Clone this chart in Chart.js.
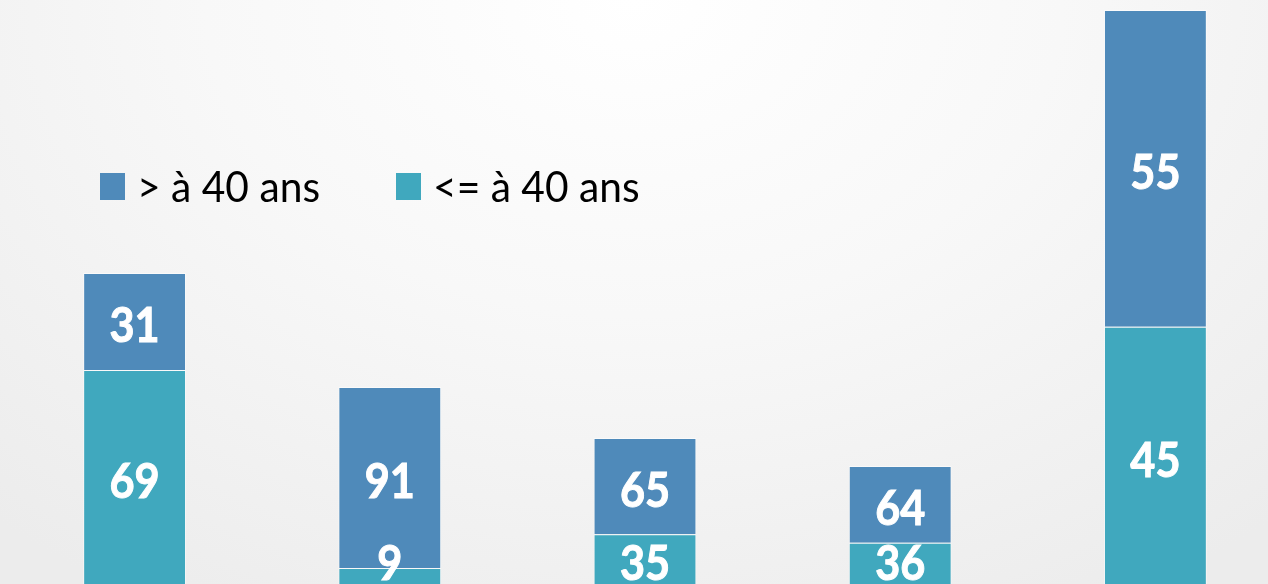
<!DOCTYPE html>
<html>
<head>
<meta charset="utf-8">
<script src="https://cdn.jsdelivr.net/npm/chart.js@4"></script>
<style>
  html, body {
    margin: 0;
    width: 1268px;
    height: 584px;
    overflow: hidden;
    background: radial-gradient(ellipse 75% 120% at 50% 0%, #ffffff 0%, #f8f8f8 45%, #ececec 100%);
  }
  #wrap {
    position: absolute;
    left: 0;
    top: 0;
    width: 1290px;
    height: 590px;
  }
</style>
</head>
<body>
<div id="wrap"><canvas id="ageChart"></canvas></div>
<script>
// Five groups, each split by age; labels show the share (%) inside each bar
const groups = ["G1", "G2", "G3", "G4", "G5"];
const totals = [313, 199, 148, 120, 576];
const pctOver40 = [31, 91, 65, 64, 55];
const pctUpTo40 = [69, 9, 35, 36, 45];

const seriesNames = ["> à 40 ans", "<= à 40 ans"];
const colorOver = "#4f8aba";
const colorUpTo = "#40a8be";

const valuesOver = totals.map((t, i) => t * pctOver40[i] / 100);
const valuesUpTo = totals.map((t, i) => t * pctUpTo40[i] / 100);

// White percentage labels centred in each segment, kept inside the plot bottom
const segmentLabels = {
  id: "segmentLabels",
  afterDatasetsDraw(chart) {
    const ctx = chart.ctx;
    const bottom = chart.chartArea.bottom;
    ctx.save();
    ctx.fillStyle = "#ffffff";
    ctx.strokeStyle = "#ffffff";
    ctx.lineWidth = 1;
    ctx.font = "bold 48px Lato";
    ctx.textAlign = "center";
    ctx.textBaseline = "middle";
    chart.data.datasets.forEach((ds, di) => {
      const meta = chart.getDatasetMeta(di);
      meta.data.forEach((bar, i) => {
        const mid = (bar.y + bar.base) / 2 + 5;
        const y = Math.min(mid, bottom - 21);
        ctx.save();
        ctx.translate(bar.x, y);
        ctx.scale(0.9, 1);
        ctx.fillText(String(ds.pct[i]), 0, 0);
        ctx.strokeText(String(ds.pct[i]), 0, 0);
        ctx.restore();
      });
    });
    ctx.restore();
  }
};

// Legend drawn over the plot area, upper left
const floatingLegend = {
  id: "floatingLegend",
  afterDraw(chart) {
    const ctx = chart.ctx;
    const items = [
      { text: seriesNames[0], color: colorOver, x: 100 },
      { text: seriesNames[1], color: colorUpTo, x: 396 }
    ];
    ctx.save();
    ctx.font = "42px Lato";
    ctx.textBaseline = "middle";
    ctx.textAlign = "left";
    items.forEach(it => {
      ctx.fillStyle = it.color;
      ctx.fillRect(it.x, 173, 25, 27);
      ctx.fillStyle = "#000000";
      ctx.save();
      ctx.translate(it.x + 37, 188);
      ctx.scale(0.97, 1);
      ctx.fillText(it.text, 0, 0);
      ctx.restore();
    });
    ctx.restore();
  }
};

const ctx = document.getElementById("ageChart").getContext("2d");
new Chart(ctx, {
  type: "bar",
  data: {
    labels: groups,
    datasets: [
      {
        label: seriesNames[1],
        data: valuesUpTo,
        pct: pctUpTo40,
        backgroundColor: colorUpTo,
        borderColor: "rgba(255, 255, 255, 0.55)",
        borderWidth: 1,
        barPercentage: 0.403,
        categoryPercentage: 1
      },
      {
        label: seriesNames[0],
        data: valuesOver,
        pct: pctOver40,
        backgroundColor: colorOver,
        borderColor: "rgba(255, 255, 255, 0.55)",
        borderWidth: 1,
        barPercentage: 0.403,
        categoryPercentage: 1
      }
    ]
  },
  options: {
    responsive: true,
    maintainAspectRatio: false,
    animation: false,
    layout: { padding: { left: 7, right: 7, top: 0, bottom: 4 } },
    plugins: {
      legend: { display: false },
      tooltip: { enabled: false }
    },
    scales: {
      x: { stacked: true, display: false },
      y: { stacked: true, display: false, min: 0, max: 586 }
    }
  },
  plugins: [segmentLabels, floatingLegend]
});
</script>
</body>
</html>
